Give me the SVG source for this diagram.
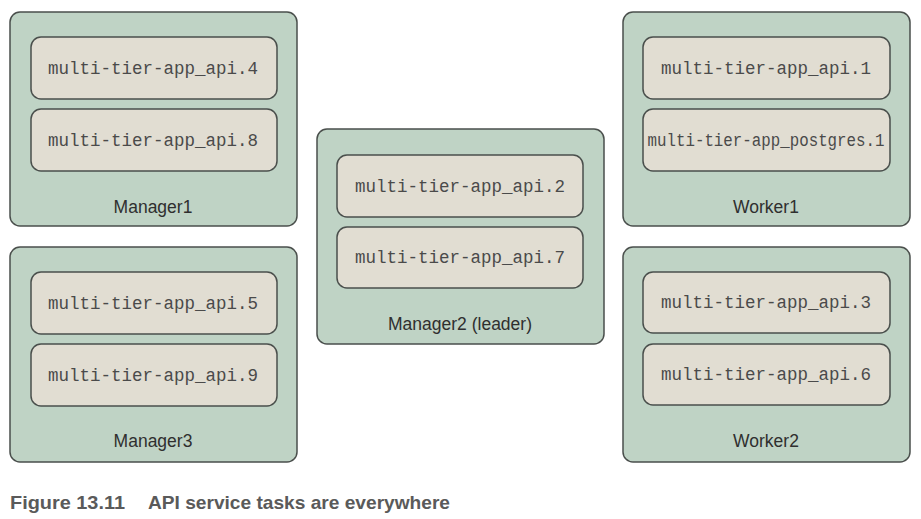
<svg xmlns="http://www.w3.org/2000/svg" width="921" height="519" viewBox="0 0 921 519">
<style>
.outer{fill:#bfd3c5;stroke:#4a4f4c;stroke-width:1.5}
.inner{fill:#e1ddd2;stroke:#4a4f4c;stroke-width:1.5}
.task{font-family:"Liberation Mono","Courier New",monospace;font-size:17.5px;fill:#4a4a4a;text-anchor:middle}
.lbl{font-family:"Liberation Sans",Arial,sans-serif;font-size:17.5px;fill:#2f2f2f;text-anchor:middle}
.cap{font-family:"Liberation Sans",Arial,sans-serif;font-size:19px;font-weight:bold;fill:#5a5a5a}
</style>
<rect width="921" height="519" fill="#ffffff"/>
<g id="manager1">
<rect class="outer" x="10" y="12" width="287" height="214" rx="10"/>
<rect class="inner" x="31" y="37" width="246" height="62" rx="10"/>
<text class="task" x="153" y="74">multi-tier-app_api.4</text>
<rect class="inner" x="31" y="109" width="246" height="62" rx="10"/>
<text class="task" x="153" y="146">multi-tier-app_api.8</text>
<text class="lbl" x="153" y="213">Manager1</text>
</g>
<g id="manager3">
<rect class="outer" x="10" y="247" width="287" height="215" rx="10"/>
<rect class="inner" x="31" y="272" width="246" height="62" rx="10"/>
<text class="task" x="153" y="309">multi-tier-app_api.5</text>
<rect class="inner" x="31" y="344" width="246" height="62" rx="10"/>
<text class="task" x="153" y="381">multi-tier-app_api.9</text>
<text class="lbl" x="153" y="447">Manager3</text>
</g>
<g id="manager2">
<rect class="outer" x="317" y="129" width="287" height="215" rx="10"/>
<rect class="inner" x="337" y="155" width="246" height="62" rx="10"/>
<text class="task" x="460" y="192">multi-tier-app_api.2</text>
<rect class="inner" x="337" y="227" width="246" height="61" rx="10"/>
<text class="task" x="460" y="263">multi-tier-app_api.7</text>
<text class="lbl" x="460" y="330">Manager2 (leader)</text>
</g>
<g id="worker1">
<rect class="outer" x="623" y="12" width="287" height="214" rx="10"/>
<rect class="inner" x="643" y="37" width="247" height="62" rx="10"/>
<text class="task" x="766" y="74">multi-tier-app_api.1</text>
<rect class="inner" x="643" y="109" width="247" height="62" rx="10"/>
<text class="task" x="766" y="146" textLength="237" lengthAdjust="spacingAndGlyphs">multi-tier-app_postgres.1</text>
<text class="lbl" x="766" y="213">Worker1</text>
</g>
<g id="worker2">
<rect class="outer" x="623" y="247" width="287" height="215" rx="10"/>
<rect class="inner" x="643" y="272" width="247" height="61" rx="10"/>
<text class="task" x="766" y="308">multi-tier-app_api.3</text>
<rect class="inner" x="643" y="344" width="247" height="61" rx="10"/>
<text class="task" x="766" y="380">multi-tier-app_api.6</text>
<text class="lbl" x="766" y="447">Worker2</text>
</g>
<g id="connectors"></g>
<g id="caption">
<text class="cap" x="10" y="509" textLength="115" lengthAdjust="spacingAndGlyphs">Figure 13.11</text>
<text class="cap" x="148" y="509" textLength="302" lengthAdjust="spacingAndGlyphs">API service tasks are everywhere</text>
</g>
</svg>
